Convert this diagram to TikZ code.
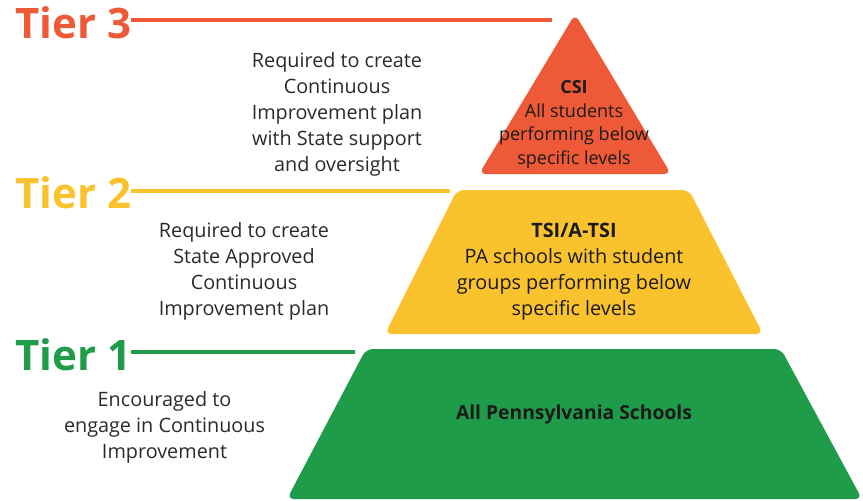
\documentclass[tikz,border=0pt]{standalone}
\usepackage{fontspec}
\setmainfont{Open Sans}
\definecolor{tierred}{HTML}{EE5A37}
\definecolor{tieryellow}{HTML}{FAC32D}
\definecolor{tiergreen}{HTML}{1F9C4A}
\definecolor{bodytext}{HTML}{2A2A2A}
\definecolor{inktext}{HTML}{1A1A1A}
\begin{document}
\begin{tikzpicture}[x=1pt,y=-1pt,
  tierlabel/.style={anchor=base west, inner sep=0pt, font=\bfseries\fontsize{42}{42}\selectfont},
  tierline/.style={line width=4pt},
  note/.style={align=center, inner sep=0pt, text=bodytext, font=\fontsize{19.8}{26}\selectfont},
  layer/.style={rounded corners=7pt},
  layertext/.style={align=center, inner sep=0pt, text=inktext, font=\fontsize{19.8}{26}\selectfont},
]
\useasboundingbox (0,0) rectangle (863,501);

% pyramid layers
\fill[tierred, layer] (575,14) -- (671,174) -- (479,174) -- cycle;
\fill[tieryellow, layer] (457,190) -- (689,190) -- (763,334) -- (385,334) -- cycle;
\fill[tiergreen, layer] (366,349) -- (781,349) -- (862,499) -- (287,499) -- cycle;

% tier labels and their leader lines
\node[tierlabel, text=tierred] (t3) at (15,38) {Tier 3};
\node[tierlabel, text=tieryellow] (t2) at (15,208) {Tier 2};
\node[tierlabel, text=tiergreen] (t1) at (15,370) {Tier 1};
\coordinate (t3end) at (552,20);
\coordinate (t2end) at (450,191);
\coordinate (t1end) at (355,352);
\draw[tierline, tierred] (t3end -| t3.east) -- (t3end);
\draw[tierline, tieryellow] (t2end -| t2.east) -- (t2end);
\draw[tierline, tiergreen] (t1end -| t1.east) -- (t1end);

% requirement notes
\node[note] (n3) at (337,114) {Required to create\\Continuous\\Improvement plan\\with State support\\and oversight};
\node[note] (n2) at (244,271.3) {Required to create\\State Approved\\Continuous\\Improvement plan};
\node[note] (n1) at (164.5,427.3) {Encouraged to\\engage in Continuous\\Improvement};

% layer contents
\node[layertext, font=\fontsize{18}{23.5}\selectfont] (csi) at (574,124.5) {\textbf{CSI}\\All students\\performing below\\specific levels};
\node[layertext] (tsi) at (574,272) {\textbf{TSI/A-TSI}\\PA schools with student\\groups performing below\\specific levels};
\node[layertext, anchor=base, font=\bfseries\fontsize{19.3}{26}\selectfont] (all) at (574,419) {All Pennsylvania Schools};
\end{tikzpicture}
\end{document}
